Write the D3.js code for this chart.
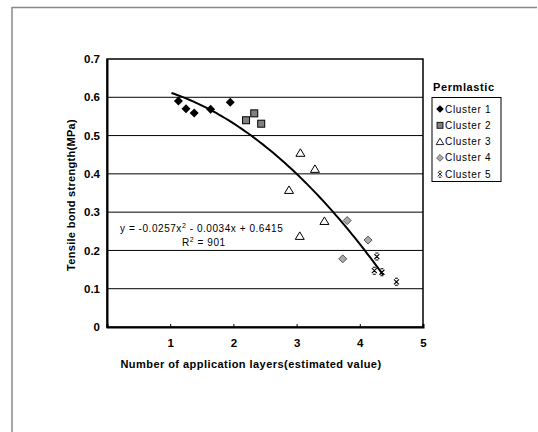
<!DOCTYPE html>
<html>
<head>
<meta charset="utf-8">
<script src="https://cdn.jsdelivr.net/npm/d3@7.9.0/dist/d3.min.js"></script>
<style>
  body { margin: 0; background: #fff; }
  svg { display: block; font-family: "Liberation Sans", Arial, sans-serif; }
</style>
</head>
<body>
<div id="chart"></div>
<script>
// Values
const cluster1 = [[1.13, 0.590], [1.25, 0.570], [1.38, 0.559], [1.64, 0.569], [1.95, 0.587]];
const cluster2 = [[2.20, 0.540], [2.33, 0.558], [2.44, 0.531]];
const cluster3 = [[3.06, 0.455], [3.29, 0.413], [2.88, 0.358], [3.44, 0.277], [3.05, 0.238]];
const cluster4 = [[3.80, 0.278], [4.13, 0.227], [3.73, 0.178]];
const cluster5 = [[4.27, 0.184], [4.23, 0.147], [4.35, 0.143], [4.58, 0.118]];
const clusterNames = ["Cluster 1", "Cluster 2", "Cluster 3", "Cluster 4", "Cluster 5"];
const xTicks = [1, 2, 3, 4, 5];
const yTicks = [0, 0.1, 0.2, 0.3, 0.4, 0.5, 0.6, 0.7];
// polynomial trendline printed on the chart
const trendCoef = [-0.0257, -0.0034, 0.6415];
const trendRange = [1.02, 4.40];

const width = 538, height = 432;
const margin = { top: 59, right: 115, bottom: 105, left: 107 };
const w = width - margin.left - margin.right;
const h = height - margin.top - margin.bottom;

const svg = d3.select("#chart").append("svg")
  .attr("width", width).attr("height", height);

// outer frame (top and left only)
svg.append("line").attr("x1", 12).attr("x2", 537).attr("y1", 7.5).attr("y2", 7.5)
  .attr("stroke", "#888").attr("stroke-width", 1.5);
svg.append("line").attr("x1", 12).attr("x2", 12).attr("y1", 7).attr("y2", 432)
  .attr("stroke", "#888").attr("stroke-width", 1.5);

const g = svg.append("g").attr("transform", `translate(${margin.left},${margin.top})`);

const x = d3.scaleLinear().domain([0, 5]).range([0, w]);
const y = d3.scaleLinear().domain([0, 0.7]).range([h, 0]);

// gridlines
g.append("g").selectAll("line")
  .data(yTicks.filter(d => d > 0 && d < 0.7))
  .enter().append("line")
  .attr("x1", 0).attr("x2", w)
  .attr("y1", d => y(d)).attr("y2", d => y(d))
  .attr("stroke", "#000").attr("stroke-width", 1);

// plot frame
g.append("rect").attr("x", 0).attr("y", 0).attr("width", w).attr("height", h)
  .attr("fill", "none").attr("stroke", "#000").attr("stroke-width", 1.5);

// y axis
const yAxis = g.append("g")
  .call(d3.axisLeft(y).tickValues(yTicks).tickFormat(d => d === 0 ? "0" : d3.format(".1f")(d)).tickSize(0).tickPadding(7));
yAxis.select(".domain").attr("stroke", "#000").attr("stroke-width", 2);
yAxis.selectAll("text").attr("font-size", 11.5).attr("font-weight", "bold").attr("fill", "#000");

// x axis
const xAxis = g.append("g").attr("transform", `translate(0,${h})`)
  .call(d3.axisBottom(x).tickValues(xTicks).tickFormat(d3.format("d")).tickSize(-3).tickPadding(12));
xAxis.select(".domain").attr("stroke", "#000").attr("stroke-width", 2);
xAxis.selectAll(".tick line").attr("stroke", "#000");
xAxis.selectAll("text").attr("font-size", 11.5).attr("font-weight", "bold").attr("fill", "#000");

// axis titles
svg.append("text")
  .attr("x", 251).attr("y", 368)
  .attr("text-anchor", "middle")
  .attr("font-size", 11).attr("font-weight", "bold")
  .attr("letter-spacing", 0.45)
  .text("Number of application layers(estimated value)");

svg.append("text")
  .attr("transform", "translate(75,195) rotate(-90)")
  .attr("text-anchor", "middle")
  .attr("font-size", 11).attr("font-weight", "bold")
  .attr("letter-spacing", 0.3)
  .text("Tensile bond strength(MPa)");

// trendline
const trend = d => trendCoef[0] * d * d + trendCoef[1] * d + trendCoef[2];
const trendPts = d3.range(trendRange[0], trendRange[1] + 0.001, 0.05);
g.append("path")
  .datum(trendPts)
  .attr("fill", "none").attr("stroke", "#000").attr("stroke-width", 2)
  .attr("d", d3.line().x(d => x(d)).y(d => y(trend(d))));

// markers
function drawMarker(sel, i) {
  if (i === 0) {
    sel.append("path").attr("d", "M0,-4.5L4.5,0L0,4.5L-4.5,0Z").attr("fill", "#000");
  } else if (i === 1) {
    sel.append("rect").attr("x", -3.5).attr("y", -3.5).attr("width", 7).attr("height", 7)
      .attr("fill", "#808080").attr("stroke", "#000").attr("stroke-width", 1);
  } else if (i === 2) {
    sel.append("path").attr("d", "M0,-4L4.5,3.5L-4.5,3.5Z")
      .attr("fill", "#fff").attr("stroke", "#000").attr("stroke-width", 1);
  } else if (i === 3) {
    sel.append("path").attr("d", "M0,-4L4,0L0,4L-4,0Z")
      .attr("fill", "#aaa").attr("stroke", "#555").attr("stroke-width", 1);
  } else {
    sel.append("path").attr("d", "M-2.5,-2.5L2.5,2.5M2.5,-2.5L-2.5,2.5M-1.5,-3.5L1.5,-3.5M-1.5,3.5L1.5,3.5")
      .attr("stroke", "#000").attr("stroke-width", 1.1);
  }
}

const clusters = [cluster1, cluster2, cluster3, cluster4, cluster5];
clusters.forEach((pts, i) => {
  g.append("g").selectAll("g")
    .data(pts).enter().append("g")
    .attr("transform", d => `translate(${x(d[0])},${y(d[1])})`)
    .each(function() { drawMarker(d3.select(this), i); });
});

// equation label
const eq = svg.append("text")
  .attr("x", 120).attr("y", 232)
  .attr("font-size", 10).attr("letter-spacing", 0.55);
eq.append("tspan").text("y = -0.0257x");
eq.append("tspan").attr("font-size", 7).attr("dy", -4).text("2");
eq.append("tspan").attr("dy", 4).text(" - 0.0034x + 0.6415");
const r2 = svg.append("text")
  .attr("x", 182).attr("y", 246)
  .attr("font-size", 10).attr("letter-spacing", 0.55);
r2.append("tspan").text("R");
r2.append("tspan").attr("font-size", 7).attr("dy", -4).text("2");
r2.append("tspan").attr("dy", 4).text(" = 901");

// legend
svg.append("text")
  .attr("x", 433).attr("y", 91)
  .attr("font-size", 11).attr("font-weight", "bold")
  .attr("letter-spacing", 0.6)
  .text("Permlastic");

svg.append("rect")
  .attr("x", 432).attr("y", 97.5).attr("width", 69).attr("height", 84)
  .attr("fill", "#fff").attr("stroke", "#000").attr("stroke-width", 1);

const legend = svg.append("g").selectAll("g")
  .data(clusterNames).enter().append("g")
  .attr("transform", (d, i) => `translate(440,${109 + i * 16.3})`);
legend.each(function(d, i) {
  const s = d3.select(this).append("g").attr("transform", "scale(0.85)");
  drawMarker(s, i);
});
legend.append("text")
  .attr("x", 5).attr("y", 0).attr("dy", "0.35em")
  .attr("font-size", 10).attr("letter-spacing", 0.7)
  .text(d => d);
</script>
</body>
</html>
